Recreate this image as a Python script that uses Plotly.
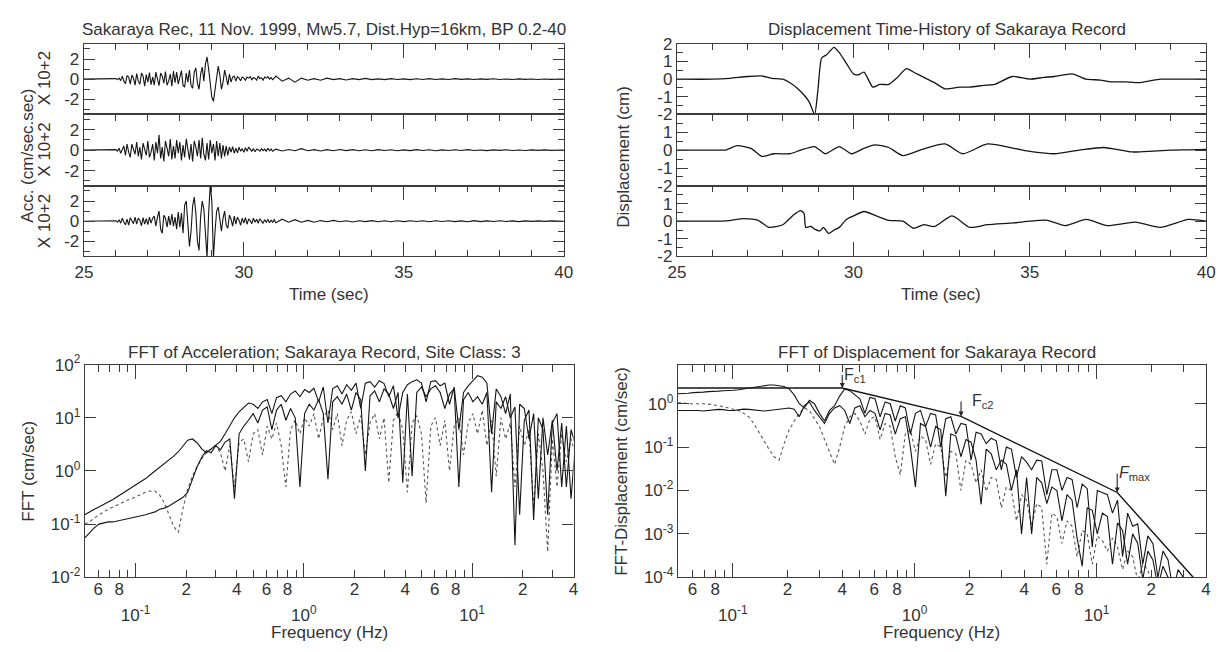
import numpy as np
import plotly.graph_objects as go

# ================= DATA =================
# time axis ticks (s)
TIME_TICKS = [25, 30, 35, 40]
TIME_MINOR = [26, 27, 28, 29, 31, 32, 33, 34, 36, 37, 38, 39]

# acceleration records (x 10^2 cm/s^2): quiet start, fine window (0.05 s), tail (0.2 s)
ACC_START_T = [25.0]
ACC_FINE_T0, ACC_FINE_DT = 25.90, 0.05
ACC_TAIL_T0, ACC_TAIL_DT = 31.0, 0.2

acc1_fine = [0, 0, 0.05, -0.05, 0.1, -0.15, 0.3, -0.2, -0.45, 0.35,
             0.2, -0.5, 0.4, 0.1, -0.6, 0.55, -0.2, -0.5, 0.6, 0.3,
             -0.7, 0.45, -0.3, 0.65, -0.55, 0.2, -0.6, 0.7, -0.1, -0.65,
             0.6, 0.3, -0.4, 0.75, -0.6, -0.2, 0.5, -0.7, 0.8, -0.35,
             0.7, -0.5, 0.2, 0.85, -0.6, -0.8, 0.6, -0.3, 0.9, -0.6,
             -0.9, 0.7, 1.1, -0.4, -1.0, 0.5, 1.2, -0.2, 1.5, 2.2,
             1.0, -0.8, -1.8, -2.2, -1.0, 0.6, 1.3, 0.4, -1.0, -0.3,
             0.9, 0.2, -0.6, 0.5, -0.3, 0.2, 0.3, -0.2, 0.25, 0.1,
             -0.15, 0.2, 0.1, -0.1, 0.2, 0.1, 0.25, -0.05, 0.15, 0.1,
             -0.1, 0.3, 0.05, 0.15, -0.1, 0.2, 0.1, 0.25, 0.0, 0.15,
             -0.05, 0.1]
acc1_tail = [0.3, -0.2, 0.1, -0.3, 0.1, -0.1, 0.05, -0.1, 0.1, -0.05,
             0.05, -0.08, 0.05, -0.05, 0.08, -0.05, 0.03, -0.05, 0.05, -0.03,
             0.03, -0.05, 0.04, -0.03, 0.05, -0.04, 0.03, -0.03, 0.05, -0.02,
             0.03, -0.04, 0.03, -0.02, 0.04, -0.03, 0.02, -0.03, 0.03, -0.02,
             0.02, -0.03, 0.02, -0.02, 0.02, 0.0]

acc2_fine = [0, 0, 0.05, -0.1, 0.2, -0.3, 0.1, 0.4, -0.5, 0.6,
             -0.2, -0.7, 0.6, 0.2, -0.4, 0.8, -0.6, 0.3, -0.9, 0.7,
             0.2, -0.5, 0.9, -0.7, -0.2, 0.6, -1.0, 0.8, -0.3, 1.5,
             -0.8, 0.3, -1.1, 0.9, 0.2, -0.6, 1.1, -0.9, 0.4, -0.8,
             1.0, -0.3, 0.8, -1.0, 0.5, -0.7, 1.1, 0.1, -0.9, 0.6,
             -1.1, 0.9, 0.3, -0.6, 1.0, -0.8, 1.2, -0.4, -1.0, 0.7,
             -0.9, 1.0, -0.3, 0.6, -1.0, 0.9, -0.6, 0.7, -0.8, 0.5,
             -0.6, 0.4, -0.5, 0.3, -0.2, 0.35, -0.3, 0.2, -0.25, 0.3,
             -0.1, 0.15, -0.2, 0.25, -0.1, 0.3, 0.1, -0.1, 0.15, -0.15,
             0.1, 0.05, -0.1, 0.15, -0.05, 0.1, -0.1, 0.2, -0.05, 0.1,
             -0.1, 0.05]
acc2_tail = [0.1, -0.08, 0.06, -0.05, 0.15, -0.05, 0.05, -0.08, 0.05, -0.05,
             0.06, -0.04, 0.05, -0.05, 0.04, -0.06, 0.05, -0.03, 0.04, -0.05,
             0.03, -0.04, 0.05, -0.03, 0.04, -0.05, 0.03, -0.03, 0.04, -0.03,
             0.05, -0.03, 0.02, -0.04, 0.03, -0.02, 0.04, -0.03, 0.02, -0.03,
             0.03, -0.02, 0.03, -0.02, 0.02, 0.0]

acc3_fine = [0, 0, 0.05, -0.1, 0.15, -0.2, 0.3, -0.1, -0.35, 0.2,
             -0.4, 0.35, 0.1, -0.25, 0.4, -0.3, 0.3, 0.1, -0.45, 0.35,
             -0.3, 0.25, -0.35, 0.4, -0.2, 0.3, 0.5, -0.5, 0.4, 1.0,
             -0.8, -1.2, 0.6, 0.3, -0.6, 0.5, -0.4, 0.7, -0.5, 0.4,
             -0.8, 0.9, -0.6, 0.8, -1.2, 1.6, 2.0, -0.5, -2.5, -1.0,
             1.5, 2.4, 0.8, -2.0, -2.9, 0.5, 2.0, 1.2, -1.5, -3.6,
             0.8, 3.6, 2.0, -3.6, -1.0, 1.0, 1.4, 0.2, -1.0, 0.3,
             1.0, -0.4, -0.7, 0.6, 0.2, -0.5, 0.5, -0.3, 0.4, 0.1,
             -0.4, 0.3, -0.2, 0.35, -0.3, 0.2, 0.05, -0.25, 0.3, -0.1,
             0.2, -0.2, 0.25, 0.0, -0.2, 0.15, -0.1, 0.2, -0.15, 0.1,
             -0.1, 0.15]
acc3_tail = [-0.15, 0.2, -0.1, 0.15, -0.1, 0.08, -0.1, 0.06, -0.05, 0.08,
             -0.06, 0.05, -0.08, 0.05, -0.04, 0.06, -0.05, 0.04, -0.06, 0.05,
             -0.04, 0.05, -0.03, 0.04, -0.05, 0.04, -0.03, 0.05, -0.04, 0.03,
             -0.05, 0.06, -0.04, 0.03, -0.03, 0.04, -0.03, 0.03, -0.04, 0.03,
             -0.02, 0.03, -0.02, 0.03, -0.02, 0.0]

# displacement records (cm): digitised (time, value) points
disp1_t = [25.0, 26.0, 26.5, 27.0, 27.4, 27.7, 28.0, 28.2, 28.4, 28.6, 28.75, 28.9, 29.0,
           29.1, 29.25, 29.45, 29.6, 29.8, 30.0, 30.15, 30.3, 30.55, 30.75, 31.0, 31.25,
           31.5, 31.75, 32.0, 32.3, 32.6, 33.0, 33.3, 33.7, 34.0, 34.5, 35.0, 35.4, 35.7,
           36.2, 36.6, 37.0, 37.3, 37.7, 38.1, 38.4, 38.7, 39.2, 39.6, 40.0]
disp1_v = [0, 0.0, 0.05, 0.15, 0.18, 0.05, 0.0, -0.2, -0.5, -0.9, -1.3, -2.0, -0.5,
           1.2, 1.4, 1.8, 1.5, 0.9, 0.3, 0.25, 0.4, -0.45, -0.3, -0.3, 0.1,
           0.6, 0.35, 0.1, -0.2, -0.55, -0.45, -0.45, -0.35, -0.3, 0.15, 0.0, 0.1, 0.15,
           0.3, 0.0, -0.05, -0.15, -0.15, -0.2, -0.1, 0.0, 0.0, 0.0, 0.0]
disp2_t = [25.0, 26.0, 26.4, 26.7, 27.1, 27.4, 27.75, 28.2, 28.5, 28.9, 29.2, 29.6, 29.95,
           30.3, 30.6, 31.0, 31.4, 31.95, 32.6, 33.1, 33.8, 34.55, 35.1, 35.7, 36.4, 37.1,
           37.9, 38.5, 39.0, 39.5, 40.0]
disp2_v = [0, 0, 0.02, 0.25, 0.1, -0.35, -0.2, -0.2, 0.0, 0.2, -0.2, 0.2, -0.2,
           0.1, 0.3, 0.15, -0.3, 0.05, 0.35, -0.2, 0.35, 0.1, -0.1, -0.2, 0.0, 0.15,
           -0.1, -0.05, 0.0, 0.02, 0.05]
disp3_t = [25.0, 26.0, 26.4, 26.9, 27.3, 27.6, 28.0, 28.3, 28.5, 28.6, 28.65, 28.8, 28.9,
           29.05, 29.15, 29.3, 29.45, 29.6, 29.8, 30.0, 30.3, 30.65, 31.0, 31.4, 31.7, 32.0,
           32.3, 32.8, 33.3, 33.8, 34.55, 35.0, 35.5, 36.0, 36.6, 37.2, 38.0, 38.7, 39.5, 40.0]
disp3_v = [0, 0, 0.02, 0.15, 0.05, -0.35, -0.2, 0.35, 0.6, 0.45, -0.35, -0.3, -0.45,
           -0.55, -0.35, -0.7, -0.5, -0.35, 0.1, 0.3, 0.55, 0.3, 0.05, 0.0, -0.4, -0.2,
           -0.3, 0.3, -0.35, -0.2, -0.1, 0.0, 0.05, -0.25, 0.1, -0.25, -0.05, -0.35, 0.1, 0.0]

# Fourier spectra sampled on a log grid starting at 0.05 Hz, 36 samples per decade
FREQ_START, PER_DECADE = 0.05, 36

fft_acc_1 = [0.15, 0.17, 0.19, 0.21, 0.23, 0.26, 0.29, 0.33, 0.37, 0.42,
             0.48, 0.55, 0.63, 0.72, 0.85, 1.0, 1.15, 1.35, 1.6, 1.9,
             2.3, 3.0, 3.8, 4.0, 3.4, 2.6, 2.2, 2.6, 3.0, 3.6,
             5.0, 7.0, 10, 13, 16, 19, 18, 15, 20, 22,
             12, 24, 26, 20, 28, 32, 25, 34, 30, 36,
             20, 38, 8, 35, 40, 28, 42, 33, 45, 15,
             45, 48, 38, 50, 44, 25, 40, 10, 30, 42,
             48, 52, 45, 20, 48, 50, 40, 45, 18, 38,
             6, 30, 40, 50, 62, 58, 45, 5, 35, 25,
             12, 28, 0.04, 18, 15, 4, 12, 0.3, 10, 2,
             9, 1, 8, 0.5, 6, 3]
fft_acc_2 = [0.055, 0.07, 0.085, 0.1, 0.105, 0.11, 0.11, 0.115, 0.12, 0.125,
             0.13, 0.135, 0.14, 0.15, 0.16, 0.17, 0.19, 0.2, 0.22, 0.25,
             0.28, 0.32, 0.4, 0.7, 1.2, 1.8, 2.4, 2.2, 3.0, 2.5,
             3.5, 4.0, 0.3, 5.0, 7.0, 9.0, 12, 8.0, 14, 16,
             6.0, 14, 18, 9.0, 15, 10, 0.5, 12, 18, 14,
             22, 12, 0.7, 20, 25, 18, 28, 14, 30, 22,
             1.0, 26, 32, 20, 35, 28, 15, 30, 0.6, 28,
             0.8, 30, 38, 25, 35, 40, 30, 15, 28, 35,
             0.5, 22, 30, 20, 25, 18, 30, 0.4, 20, 15,
             25, 10, 16, 0.15, 9, 14, 0.12, 10, 6, 0.15,
             8, 12, 0.5, 7, 0.3, 4]
fft_acc_3 = [0.1, 0.11, 0.13, 0.15, 0.17, 0.19, 0.21, 0.23, 0.25, 0.28,
             0.3, 0.33, 0.36, 0.4, 0.42, 0.42, 0.35, 0.25, 0.15, 0.09,
             0.07, 0.2, 0.45, 0.8, 1.2, 1.7, 2.2, 2.6, 3.0, 2.2,
             1.0, 3.0, 0.5, 3.5, 4.0, 1.5, 5.0, 6.0, 2.0, 7.0,
             4.0, 8.0, 3.0, 0.5, 6.0, 9.0, 5.0, 10, 7.0, 12,
             4.0, 10, 14, 6.0, 12, 3.0, 9.0, 13, 5.0, 11,
             2.0, 8.0, 12, 4.0, 10, 0.6, 9.0, 13, 6.0, 0.4,
             8.0, 11, 5.0, 0.25, 7.0, 10, 3.0, 9.0, 1.0, 7.0,
             10, 2.0, 8.0, 12, 5.0, 14, 3.0, 9.0, 0.8, 10,
             4.0, 8.0, 0.5, 7.0, 3.0, 6.0, 0.2, 5.0, 1.0, 0.03,
             4.0, 0.5, 5.0, 1.5, 4.0, 2.0]

fft_dis_1 = [1.7, 1.7, 1.75, 1.8, 1.8, 1.85, 1.9, 1.9, 1.95, 2.0,
             2.0, 2.05, 2.1, 2.2, 2.3, 2.4, 2.5, 2.6, 2.7, 2.7,
             2.6, 2.5, 2.2, 1.6, 1.0, 0.8, 1.2, 1.0, 0.6, 0.4,
             0.7, 0.9, 1.5, 2.2, 2.0, 1.6, 1.3, 0.6, 1.4, 1.3,
             0.5, 1.1, 1.0, 0.4, 0.9, 0.8, 0.2, 0.6, 0.7, 0.3,
             0.6, 0.55, 0.1, 0.45, 0.5, 0.2, 0.35, 0.33, 0.05, 0.22,
             0.2, 0.12, 0.16, 0.14, 0.03, 0.1, 0.09, 0.02, 0.06, 0.045,
             0.03, 0.05, 0.048, 0.008, 0.03, 0.03, 0.01, 0.02, 0.018, 0.004,
             0.014, 0.011, 0.0005, 0.01, 0.009, 0.008, 0.003, 0.006, 0.0003, 0.003,
             0.0015, 0.0017, 0.0002, 0.0009, 0.0006, 0.0001, 0.0004, 0.00025, 0.00005, 0.00015,
             0.0001, 0.00004, 0.00006, 0.00003, 0.00004, 0.00002]
fft_dis_2 = [0.7, 0.7, 0.72, 0.72, 0.7, 0.68, 0.7, 0.72, 0.74, 0.73,
             0.7, 0.7, 0.72, 0.75, 0.74, 0.72, 0.7, 0.68, 0.7, 0.72,
             0.75, 0.78, 0.8, 0.75, 0.5, 0.9, 1.1, 0.7, 0.5, 0.35,
             0.6, 0.8, 0.9, 0.7, 0.35, 0.8, 0.9, 0.5, 0.7, 0.6,
             0.25, 0.6, 0.55, 0.2, 0.45, 0.5, 0.1, 0.012, 0.35, 0.3,
             0.1, 0.3, 0.25, 0.0074, 0.2, 0.18, 0.06, 0.15, 0.13, 0.05,
             0.0048, 0.09, 0.07, 0.03, 0.05, 0.04, 0.01, 0.03, 0.001, 0.02,
             0.001, 0.02, 0.015, 0.005, 0.012, 0.01, 0.002, 0.008, 0.006, 0.0008,
             0.00018, 0.004, 0.0035, 0.001, 0.003, 0.0025, 0.0002, 0.0018, 0.0012, 0.0002,
             0.001, 0.0006, 0.00009, 0.0004, 0.00025, 0.00006, 0.00018, 0.0001, 0.00004, 0.00007,
             0.00005, 0.00003, 0.00004, 0.00002, 0.00003, 0.00002]
fft_dis_3 = [1.05, 1.05, 1.0, 1.0, 1.02, 1.0, 0.98, 0.95, 0.9, 0.85,
             0.8, 0.75, 0.7, 0.6, 0.5, 0.35, 0.22, 0.14, 0.09, 0.06,
             0.05, 0.12, 0.25, 0.4, 0.6, 0.8, 0.7, 0.45, 0.3, 0.15,
             0.08, 0.04, 0.1, 0.3, 0.5, 0.6, 0.4, 0.2, 0.45, 0.5,
             0.15, 0.35, 0.3, 0.06, 0.023, 0.2, 0.25, 0.08, 0.18, 0.15,
             0.04, 0.12, 0.1, 0.02, 0.08, 0.07, 0.01, 0.05, 0.04, 0.015,
             0.03, 0.0095, 0.02, 0.018, 0.004, 0.012, 0.01, 0.002, 0.008, 0.006,
             0.0015, 0.005, 0.004, 0.0002, 0.003, 0.0025, 0.0006, 0.002, 0.0015, 0.0003,
             0.0012, 0.001, 0.0002, 0.0009, 0.0007, 0.0004, 0.0008, 0.0005, 0.00015, 0.0004,
             0.0003, 0.00008, 0.0002, 0.00015, 0.00005, 0.0001, 0.00008, 0.00003, 0.00006, 0.00004,
             0.00002, 0.00004, 0.00002, 0.00003, 0.00002, 0.00002]

# source model line (corner frequencies Fc1, Fc2, Fmax)
model_f = [0.05, 0.4, 1.8, 13.0, 34.0]
model_v = [2.3, 2.3, 0.51, 0.009, 0.0001]
corner_labels = ["F<sub>c1</sub>", "&nbsp;&nbsp;F<sub>c2</sub>", "<i>F</i><sub>max</sub>"]

# log-axis ticks
FREQ_DECADES = [0.1, 1, 10]
FREQ_DECADE_TEXT = ["10<sup>-1</sup>", "10<sup>0</sup>", "10<sup>1</sup>"]
FREQ_MINOR = [0.05, 0.06, 0.07, 0.08, 0.09, 0.2, 0.3, 0.4, 0.5, 0.6, 0.7, 0.8, 0.9,
              2, 3, 4, 5, 6, 7, 8, 9, 20, 30, 40]
FREQ_DIGITS = [0.06, 0.08, 0.2, 0.4, 0.6, 0.8, 2, 4, 6, 8, 20, 40]
FREQ_DIGIT_TEXT = ["6", "8", "2", "4", "6", "8", "2", "4", "6", "8", "2", "4"]
ACC_FFT_TICKS = [0.01, 0.1, 1, 10, 100]
ACC_FFT_TEXT = ["10<sup>-2</sup>", "10<sup>-1</sup>", "10<sup>0</sup>", "10<sup>1</sup>", "10<sup>2</sup>"]
DIS_FFT_TICKS = [0.0001, 0.001, 0.01, 0.1, 1]
DIS_FFT_TEXT = ["10<sup>-4</sup>", "10<sup>-3</sup>", "10<sup>-2</sup>", "10<sup>-1</sup>", "10<sup>0</sup>"]

# ================= FIGURE =================
W, H = 1224, 652
FONT = "Liberation Sans, Arial, sans-serif"
TXT = "#333333"
AXC = "#3c3c3c"
LINE = "#151515"
TICK_FS = 17
LABEL_FS = 17


def xd(a, b):
    return [a / W, b / W]


def yd(top, bot):
    return [1 - bot / H, 1 - top / H]


def pp(x, y):
    return x / W, 1 - y / H


BASE = dict(showline=True, linecolor=AXC, linewidth=1.4, showgrid=False, zeroline=False,
            ticks="inside", tickcolor=AXC, tickwidth=1.2,
            tickfont=dict(family=FONT, size=TICK_FS, color=TXT))

fig = go.Figure()

t_fine = np.round(ACC_FINE_T0 + ACC_FINE_DT * np.arange(len(acc1_fine)), 3)
t_tail = np.round(ACC_TAIL_T0 + ACC_TAIL_DT * np.arange(len(acc1_tail)), 3)
t_acc = np.concatenate([ACC_START_T, t_fine, t_tail])

acc_sets = [(acc1_fine, acc1_tail), (acc2_fine, acc2_tail), (acc3_fine, acc3_tail)]
for i, (fine, tail) in enumerate(acc_sets):
    n = i + 1
    fig.add_trace(go.Scatter(x=t_acc, y=[0.0] + fine + tail, mode="lines",
                             line=dict(color=LINE, width=1.1), showlegend=False,
                             xaxis="x" if n == 1 else f"x{n}", yaxis="y" if n == 1 else f"y{n}"))

disp_sets = [(disp1_t, disp1_v), (disp2_t, disp2_v), (disp3_t, disp3_v)]
for i, (tt, vv) in enumerate(disp_sets):
    n = i + 4
    fig.add_trace(go.Scatter(x=tt, y=vv, mode="lines",
                             line=dict(color=LINE, width=1.3, shape="spline", smoothing=0.6),
                             showlegend=False, xaxis=f"x{n}", yaxis=f"y{n}"))

freqs = FREQ_START * 10 ** (np.arange(len(fft_acc_1)) / PER_DECADE)

for vals, dash, col, w in [(fft_acc_3, "dot", "#555555", 1.1), (fft_acc_2, "solid", LINE, 1.1),
                           (fft_acc_1, "solid", LINE, 1.1)]:
    fig.add_trace(go.Scatter(x=freqs, y=vals, mode="lines", line=dict(color=col, width=w, dash=dash),
                             showlegend=False, xaxis="x7", yaxis="y7"))

for vals, dash, col, w in [(fft_dis_3, "dot", "#555555", 1.1), (fft_dis_2, "solid", LINE, 1.1),
                           (fft_dis_1, "solid", LINE, 1.1)]:
    fig.add_trace(go.Scatter(x=freqs, y=vals, mode="lines", line=dict(color=col, width=w, dash=dash),
                             showlegend=False, xaxis="x8", yaxis="y8"))
fig.add_trace(go.Scatter(x=model_f, y=model_v, mode="lines", line=dict(color=LINE, width=1.4),
                         showlegend=False, xaxis="x8", yaxis="y8"))

# invisible helpers so the digit-label overlay axes get drawn
fig.add_trace(go.Scatter(x=[1], y=[1], mode="lines", showlegend=False, hoverinfo="skip",
                         xaxis="x9", yaxis="y7"))
fig.add_trace(go.Scatter(x=[1], y=[1], mode="lines", showlegend=False, hoverinfo="skip",
                         xaxis="x10", yaxis="y8"))

# ---------- layout geometry (pixels) ----------
TL_X = xd(76, 563)
TR_X = xd(678, 1215)
ROWS = [yd(33, 106), yd(106, 180), yd(180, 253)]
BL_X = xd(77, 573)
BR_X = xd(679, 1215)
BOT_Y = yd(365, 585)

layout = dict(width=W, height=H, margin=dict(l=0, r=0, t=0, b=0),
              paper_bgcolor="white", plot_bgcolor="white", showlegend=False,
              font=dict(family=FONT, size=LABEL_FS, color=TXT))


def time_axis(dom, anchor, bottom):
    d = dict(BASE, domain=dom, anchor=anchor, range=[25, 40], tickmode="array",
             tickvals=TIME_TICKS, ticktext=[str(v) for v in TIME_TICKS], ticklen=14,
             minor=dict(tickmode="array", tickvals=TIME_MINOR, ticks="inside", ticklen=6,
                        tickcolor=AXC, tickwidth=1.2))
    if bottom:
        d.update(side="bottom", mirror="ticks", showticklabels=True)
    else:
        d.update(side="top", mirror=True, showticklabels=False)
    return d


for i in range(3):
    n = i + 1
    kx = "xaxis" if n == 1 else f"xaxis{n}"
    ky = "yaxis" if n == 1 else f"yaxis{n}"
    ya = "y" if n == 1 else f"y{n}"
    xa = "x" if n == 1 else f"x{n}"
    layout[kx] = time_axis(TL_X, ya, i == 2)
    layout[ky] = dict(BASE, domain=ROWS[i], anchor=xa, range=[-3.5, 3.5], tickmode="array",
                      tickvals=[-2, 0, 2], ticktext=["-2", "0", "2"], ticklen=11, mirror="ticks",
                      minor=dict(tickmode="array", tickvals=[-3, -1, 1, 3], ticks="inside",
                                 ticklen=6, tickcolor=AXC, tickwidth=1.2))
for i in range(3):
    n = i + 4
    layout[f"xaxis{n}"] = time_axis(TR_X, f"y{n}", i == 2)
    tv = [-2, -1, 0, 1, 2] if i == 0 else [-2, -1, 0, 1]
    layout[f"yaxis{n}"] = dict(BASE, domain=ROWS[i], anchor=f"x{n}", range=[-2, 2], tickmode="array",
                               tickvals=tv, ticktext=[str(v) for v in tv], ticklen=11, mirror="ticks",
                               minor=dict(tickmode="array", tickvals=[-1.5, -0.5, 0.5, 1.5],
                                          ticks="inside", ticklen=6, tickcolor=AXC, tickwidth=1.2))

FRANGE = [np.log10(0.05), np.log10(40) + 0.0008]


def log_x(dom, anchor):
    return dict(BASE, domain=dom, anchor=anchor, type="log", range=FRANGE, tickmode="array",
                tickvals=FREQ_DECADES, ticktext=["&nbsp;<br>" + t for t in FREQ_DECADE_TEXT],
                ticklen=14, mirror="ticks",
                minor=dict(tickmode="array", tickvals=FREQ_MINOR, ticks="inside", ticklen=7,
                           tickcolor=AXC, tickwidth=1.2))


def digit_x(over, anchor):
    return dict(type="log", range=FRANGE, overlaying=over, anchor=anchor, side="bottom",
                tickmode="array", tickvals=FREQ_DIGITS, ticktext=FREQ_DIGIT_TEXT, ticks="",
                showline=False, showgrid=False, zeroline=False,
                tickfont=dict(family=FONT, size=TICK_FS, color=TXT))


layout["xaxis7"] = log_x(BL_X, "y7")
layout["yaxis7"] = dict(BASE, domain=BOT_Y, anchor="x7", type="log", range=[-2, 2], tickmode="array",
                        tickvals=ACC_FFT_TICKS, ticktext=ACC_FFT_TEXT, ticklen=11, mirror="ticks")
layout["xaxis8"] = log_x(BR_X, "y8")
layout["yaxis8"] = dict(BASE, domain=BOT_Y, anchor="x8", type="log", range=[-4, 0.9], tickmode="array",
                        tickvals=DIS_FFT_TICKS, ticktext=DIS_FFT_TEXT, ticklen=11, mirror="ticks")
layout["xaxis9"] = digit_x("x7", "y7")
layout["xaxis10"] = digit_x("x8", "y8")

# ---------- annotations ----------
ann = []


def text_at(x, y, s, size=LABEL_FS, angle=0):
    px, py = pp(x, y)
    ann.append(dict(x=px, y=py, xref="paper", yref="paper", text=s, showarrow=False,
                    xanchor="center", yanchor="middle", textangle=angle,
                    font=dict(family=FONT, size=size, color=TXT)))


text_at(320, 18, "Sakaraya Rec, 11 Nov. 1999, Mw5.7, Dist.Hyp=16km, BP 0.2-40")
text_at(952, 18, "Displacement Time-History of Sakaraya Record")
text_at(320, 352, "FFT of Acceleration; Sakaraya Record, Site Class: 3")
text_at(942, 352, "FFT of Displacement for Sakaraya Record")
text_at(325, 292, "Time (sec)")
text_at(946, 292, "Time (sec)")
text_at(325, 642, "Frequency (Hz)")
text_at(946, 642, "Frequency (Hz)")
text_at(19, 149, "Acc. (cm/sec.sec)", angle=-90)
for yc in (68, 142, 216):
    text_at(36, yc, "X 10+2", angle=-90)
text_at(624, 150, "Displacement (cm)", angle=-90)
text_at(20, 475, "FFT (cm/sec)", angle=-90)
text_at(622, 475, "FFT-Displacement (cm/sec)", angle=-90)

# corner-frequency markers on the model line (arrow from the label down to the corner)
corner_idx = [1, 2, 3]
arrow_len = [13, 15, 19]
for k, idx in enumerate(corner_idx):
    fx, fv = np.log10(model_f[idx]), np.log10(model_v[idx])
    ann.append(dict(x=fx, y=fv, xref="x8", yref="y8", text=corner_labels[k], showarrow=True,
                    ax=0, ay=-arrow_len[k], xanchor="left", yanchor="middle",
                    arrowhead=2, arrowsize=0.9, arrowwidth=1.1, arrowcolor="#222222",
                    standoff=0, font=dict(family=FONT, size=16, color=TXT)))

layout["annotations"] = ann
fig.update_layout(**layout)
fig.write_html("out.html")
